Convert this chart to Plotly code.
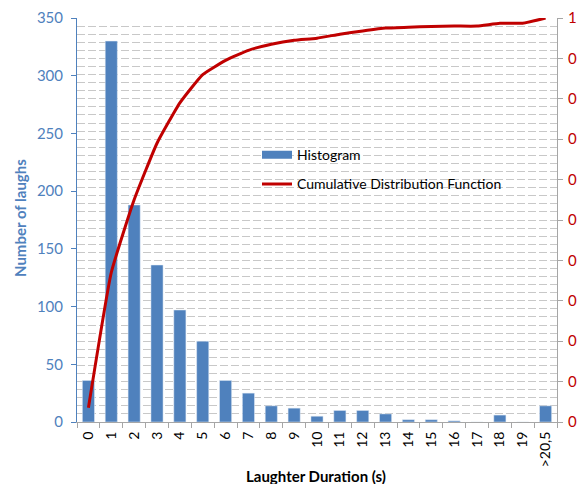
import plotly.graph_objects as go

categories = [str(i) for i in range(20)] + [">20,5"]
counts = [36, 330, 188, 136, 97, 70, 36, 25, 14, 12, 5, 10, 10, 7, 2, 2, 1, 0, 6, 0, 14]
cdf = [0.035, 0.37, 0.55, 0.69, 0.79, 0.86, 0.895, 0.92, 0.935, 0.945, 0.95,
       0.96, 0.968, 0.975, 0.977, 0.979, 0.98, 0.98, 0.987, 0.987, 1.0]
left_ticks = [0, 50, 100, 150, 200, 250, 300, 350]
right_ticks = [0, 0.1, 0.2, 0.3, 0.4, 0.5, 0.6, 0.7, 0.8, 0.9, 1.0]
right_ticktext = ["0"] * 10 + ["1"]

BLUE = "#4F81BD"
RED = "#C00000"
FONT = "Lato"

W, H = 579, 484
L, R, T, B = 77, 22, 18, 62

fig = go.Figure()
fig.add_trace(go.Bar(x=categories, y=counts, name="Histogram", marker_color=BLUE,
                     legendgroup="a", showlegend=False))
# legend entry for the histogram drawn as a wide flat swatch (like the original)
fig.add_trace(go.Scatter(x=[None], y=[None], name="Histogram", mode="lines",
                         line=dict(color=BLUE, width=8), legendgroup="a"))
fig.add_trace(go.Scatter(x=categories, y=cdf, name="Cumulative Distribution Function",
                         mode="lines", line=dict(color=RED, width=3, shape="spline", smoothing=0.4),
                         yaxis="y2", legendgroup="b"))

fig.update_layout(
    width=W, height=H,
    margin=dict(l=L, r=R, t=T, b=B, autoexpand=False),
    paper_bgcolor="white", plot_bgcolor="white",
    font=dict(family=FONT, size=13, color="black"),
    showlegend=True,
    legend=dict(x=0.375, y=0.70, xanchor="left", yanchor="top", bgcolor="rgba(0,0,0,0)",
                font=dict(size=14, color="black", family=FONT), traceorder="grouped",
                tracegroupgap=8, itemwidth=30),
    bargap=0.47,
    xaxis=dict(
        type="category", showgrid=False, showline=True, linecolor="#A6A6A6", linewidth=1,
        ticks="outside", ticklen=5, tickcolor="#A6A6A6", tickson="boundaries",
        tickangle=-90, tickfont=dict(size=14, color="black", family=FONT), ticklabelstandoff=3,
        range=[-0.5, 20.5], zeroline=False, automargin=False,
    ),
    yaxis=dict(
        range=[0, 350], tickvals=left_ticks, showgrid=False, zeroline=False,
        showline=True, linecolor=BLUE, linewidth=1, ticks="outside", ticklen=5, tickcolor=BLUE,
        tickfont=dict(size=15, color=BLUE, family=FONT), ticklabelstandoff=5, automargin=False,
    ),
    yaxis2=dict(
        range=[0, 1], overlaying="y", side="right", tickvals=right_ticks, ticktext=right_ticktext,
        showline=True, linecolor="#A6A6A6", linewidth=1, ticks="outside", ticklen=5, tickcolor="#A6A6A6",
        tickfont=dict(size=15, color=RED, family=FONT), ticklabelstandoff=2, automargin=False,
        showgrid=True, gridcolor="#C8C8C8", gridwidth=1, griddash="8px,3px", zeroline=False,
        minor=dict(dtick=0.02, showgrid=True, gridcolor="#C8C8C8", gridwidth=1, griddash="8px,3px"),
    ),
    annotations=[
        dict(text="<b>Laughter Duration (s)</b>", x=316, y=476, xref="paper", yref="paper",
             xanchor="center", yanchor="middle",
             showarrow=False, font=dict(size=15, color="black", family=FONT)),
        dict(text="<b>Number of laughs</b>", x=20, y=218, xref="paper", yref="paper",
             xanchor="center", yanchor="middle",
             showarrow=False, textangle=-90, font=dict(size=15, color=BLUE, family=FONT)),
    ],
)

# convert pixel positions of the axis-title annotations to paper coordinates
pw, ph = W - L - R, H - T - B
for a in fig.layout.annotations:
    px, py = a.x, a.y
    a.x = (px - L) / pw
    a.y = (H - B - py) / ph

fig.write_html(
    "out.html",
    config={"displayModeBar": False},
    post_script="document.body.style.margin='0';document.body.style.overflow='hidden';",
)
